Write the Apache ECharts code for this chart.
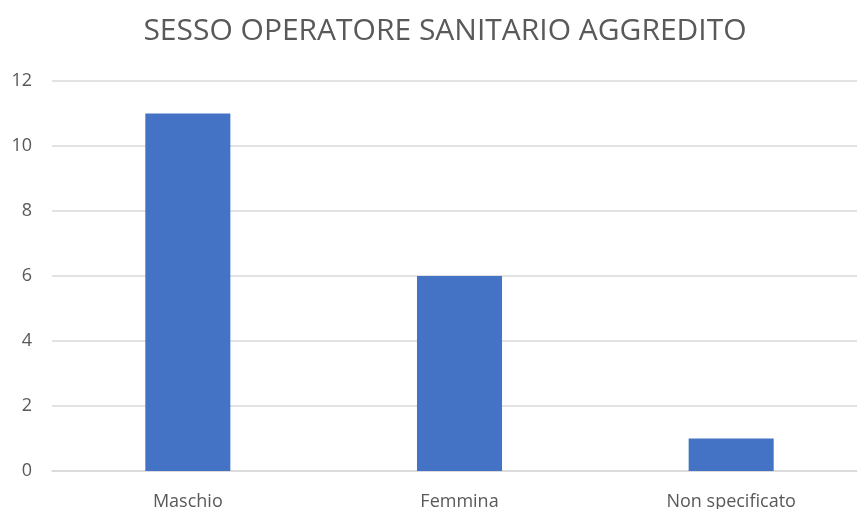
<!DOCTYPE html>
<html><head><meta charset="utf-8">
<script src="https://cdn.jsdelivr.net/npm/echarts@6/dist/echarts.min.js"></script>
<style>html,body{margin:0;padding:0;background:#fff;overflow:hidden;width:857px;height:509px}#c{width:867px;height:509px}</style>
</head><body><div id="c"></div>
<script>
var categories = ["Maschio", "Femmina", "Non specificato"];
var values = [11, 6, 1];
var yTicks = [0, 2, 4, 6, 8, 10, 12];

var FONT = "'Open Sans', sans-serif";
var chart = echarts.init(document.getElementById('c'));
chart.setOption({
  animation: false,
  title: {
    text: 'SESSO OPERATORE SANITARIO AGGREDITO',
    left: 440, textAlign: 'center', top: 11,
    textStyle: { fontFamily: FONT, fontSize: 30, fontWeight: 'normal', color: '#595959' }
  },
  grid: { left: 52, right: 0, top: 81, bottom: 38, containLabel: false, outerBoundsMode: 'none' },
  xAxis: {
    type: 'category', data: categories,
    axisLine: { lineStyle: { color: '#D9D9D9', width: 1.5 } },
    axisTick: { show: false },
    axisLabel: { fontFamily: FONT, fontSize: 18, color: '#595959', margin: 22 }
  },
  yAxis: {
    type: 'value', min: yTicks[0], max: yTicks[yTicks.length - 1], interval: 2,
    axisLine: { show: false }, axisTick: { show: false },
    splitLine: { lineStyle: { color: '#D9D9D9', width: 1.5 } },
    axisLabel: { fontFamily: FONT, fontSize: 18, color: '#595959', margin: 20 }
  },
  series: [{
    type: 'bar', data: values, barWidth: '31.3%',
    itemStyle: { color: '#4472C4' }
  }]
});
</script></body></html>
